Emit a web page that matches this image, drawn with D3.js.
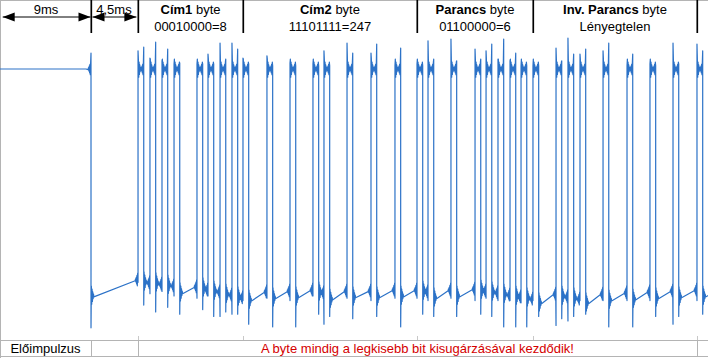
<!DOCTYPE html>
<html><head><meta charset="utf-8">
<script src="https://cdn.jsdelivr.net/npm/d3@7"></script>
<style>html,body{margin:0;padding:0;background:#fff;}svg{display:block;}</style>
</head><body>
<script>
// ---------- data (times in ms, levels in V) ----------
const leaderEndMs = 9.02;          // end of the 9 ms leader pulse
const leaderMs = 9;
const spaceMs = 4.5;
const pulseWidthMs = 0.56;
// start times of the 33 burst pulses (32 data bits + stop)
const pulseStartsMs = [13.63,14.80,15.98,17.16,19.41,20.49,21.67,22.84,
  23.92,26.27,28.53,30.78,31.86,34.12,36.47,38.82,
  40.98,42.06,44.31,46.67,47.75,48.92,50.10,51.18,
  52.35,54.61,55.78,56.96,59.22,61.57,63.82,66.08,68.43];
const highV = 5;
// overshoot peaks of each rising / falling edge
const riseTopV = [5.40,5.24,5.18,5.11,5.11,5.33,5.57,5.57,5.24,5.29,5.13,5.11,5.40,5.57,5.35,5.07,
  5.11,5.62,5.66,5.44,5.40,5.22,5.18,5.07,5.07,5.46,5.68,5.33,5.40,5.07,5.11,5.57,5.55];
const fallTopV = [5.48,5.59,5.44,5.13,5.11,5.11,5.22,5.44,5.11,5.07,5.07,5.07,5.07,5.35,5.55,5.46,
  5.07,5.22,5.18,5.22,5.55,5.66,5.35,5.07,5.07,5.18,5.33,5.44,5.57,5.33,5.07,5.11,5.40];
const riseBotV = [0.30,0.05,0.10,0.00,-0.05,0.00,-0.45,-0.40,-0.10,-0.05,-0.10,0.00,-0.62,-0.05,-0.10,-0.05,
  -0.05,-0.10,-0.05,-0.10,-0.05,-0.10,-0.10,-0.15,-0.10,-0.65,-0.55,-0.10,-0.10,-0.10,-0.10,-0.62,-0.10];
const fallBotV = [-0.20,-0.35,-0.25,-0.40,-0.30,-0.45,-0.35,-0.40,-0.62,-0.68,-0.68,-0.40,-0.45,-0.50,-0.45,-0.68,
  -0.40,-0.45,-0.45,-0.40,-0.45,-0.68,-0.68,-0.68,-0.45,-0.50,-0.45,-0.40,-0.68,-0.68,-0.45,-0.45,-0.40];
const leaderTopV = 5.35, leaderBotV = -0.70;
// low level at start / end of each gap (gap 0 follows the leader)
const lowStartV = [0.00,0.31,0.29,0.24,0.07,0.18,0.11,0.04,-0.02,-0.09,-0.04,-0.02,0.09,-0.07,-0.02,-0.02,0.00,
  0.11,-0.04,0.00,0.13,0.09,0.04,0.00,-0.04,-0.15,0.00,-0.04,-0.15,-0.09,-0.07,-0.04,-0.02,0.00];
const lowEndV = [0.35,0.29,0.26,0.22,0.20,0.13,0.09,0.02,-0.04,0.09,0.11,0.13,0.07,0.11,0.11,0.13,0.13,
  0.09,0.13,0.15,0.11,0.07,0.02,-0.02,-0.07,0.04,-0.02,-0.07,0.04,0.07,0.09,0.11,0.13,0.07];
const endMs = 70;

const byteNames = [["Cím1"," byte"],["Cím2"," byte"],["Parancs"," byte"],["Inv. Parancs"," byte"]];
const byteValues = ["00010000=8","11101111=247","01100000=6","Lényegtelen"];
const leaderLabels = ["9ms","4,5ms"];
const footLeft = "Előimpulzus";
const footNote = "A byte mindig a legkisebb bit kisugárzásával kezdődik!";

// ringing glyph shape (decorative)
const ring = [0.22,-0.18,0.15,-0.12,0.09,-0.06,0.04,-0.02];
const ringStep = 0.035;

// ---------- drawing ----------
const W = 708, H = 358;
const svg = d3.select("body").append("svg").attr("width", W).attr("height", H);
svg.append("rect").attr("width", W).attr("height", H).attr("fill", "#fff");

const x = d3.scaleLinear().domain([0, 70]).range([-1, 713]);
const y = d3.scaleLinear().domain([0, 5]).range([296, 69]);

const pts = [];
function preRing(t, level) { for (let k = ring.length - 1; k >= 0; k--) pts.push([t - (k + 1) * ringStep, level + ring[k] * 0.7]); }
function postRing(t, level) { for (let k = 0; k < ring.length; k++) pts.push([t + (k + 1) * ringStep, level + ring[k]]); }

pts.push([-0.5, highV]);
pts.push([leaderEndMs - 0.5, highV]);
preRing(leaderEndMs, highV);
pts.push([leaderEndMs, leaderTopV], [leaderEndMs, leaderBotV]);
postRing(leaderEndMs, lowStartV[0]);
pulseStartsMs.forEach((ts, i) => {
  const te = ts + pulseWidthMs;
  preRing(ts, lowEndV[i]);
  pts.push([ts, riseBotV[i]], [ts, riseTopV[i]]);
  postRing(ts, highV);
  preRing(te, highV);
  pts.push([te, fallTopV[i]], [te, fallBotV[i]]);
  postRing(te, lowStartV[i + 1]);
});
pts.push([endMs, lowEndV[lowEndV.length - 1]]);

const grid = "#b4b4b4";
const g = svg.append("g");
// borders / grid
g.append("line").attr("x1", 0).attr("x2", W).attr("y1", 0.5).attr("y2", 0.5).attr("stroke", grid);
g.append("line").attr("x1", 0.5).attr("x2", 0.5).attr("y1", 0).attr("y2", H).attr("stroke", grid);
g.append("line").attr("x1", 0).attr("x2", W).attr("y1", 340.5).attr("y2", 340.5).attr("stroke", grid);
g.append("line").attr("x1", 0).attr("x2", W).attr("y1", 356.5).attr("y2", 356.5).attr("stroke", grid);

const byteStarts = [0, 8, 16, 24, 32].map(i => pulseStartsMs[i]);
// small grid ticks at byte boundaries
byteStarts.forEach(t => {
  g.append("line").attr("x1", Math.round(x(t)) + 0.5).attr("x2", Math.round(x(t)) + 0.5)
    .attr("y1", 336).attr("y2", 340).attr("stroke", "#c8c8c8");
});
// footer dividers
[leaderEndMs, byteStarts[0], byteStarts[4]].forEach(t => {
  g.append("line").attr("x1", Math.round(x(t)) + 0.5).attr("x2", Math.round(x(t)) + 0.5)
    .attr("y1", 340).attr("y2", 357).attr("stroke", grid);
});

// waveform
const line = d3.line().x(d => x(d[0])).y(d => y(d[1]));
svg.append("path").datum(pts).attr("d", line).attr("fill", "none")
  .attr("stroke", "#2c72c7").attr("stroke-width", 1.2).attr("stroke-linejoin", "round");

// header dividers
const hdr = svg.append("g");
[leaderEndMs, ...byteStarts].forEach(t => {
  hdr.append("line").attr("x1", x(t) + 0.3).attr("x2", x(t) + 0.3).attr("y1", 0).attr("y2", 33)
    .attr("stroke", "#000").attr("stroke-width", 1.7);
});

// arrows
function arrow(x1, x2, yy) {
  hdr.append("line").attr("x1", x1).attr("x2", x2).attr("y1", yy).attr("y2", yy).attr("stroke", "#000");
  hdr.append("path").attr("d", `M${x1},${yy}L${x1 + 12},${yy - 4.5}L${x1 + 12},${yy + 4.5}Z`).attr("fill", "#000");
  hdr.append("path").attr("d", `M${x2},${yy}L${x2 - 12},${yy - 4.5}L${x2 - 12},${yy + 4.5}Z`).attr("fill", "#000");
}
const ay = 17;
arrow(x(leaderEndMs - leaderMs) + 3.5, x(leaderEndMs) - 0.5, ay);
arrow(x(leaderEndMs) + 1.5, x(leaderEndMs + spaceMs) - 0.5, ay);

const font = "'Liberation Sans', Arial, sans-serif";
hdr.append("text").attr("x", (x(leaderEndMs - leaderMs) + x(leaderEndMs)) / 2 + 1).attr("y", 13.5)
  .attr("text-anchor", "middle").attr("font-family", font).attr("font-size", 13).text(leaderLabels[0]);
hdr.append("text").attr("x", (x(leaderEndMs) + x(leaderEndMs + spaceMs)) / 2).attr("y", 13.5)
  .attr("text-anchor", "middle").attr("font-family", font).attr("font-size", 13).text(leaderLabels[1]);

byteNames.forEach((nm, i) => {
  const cx = (x(byteStarts[i]) + x(byteStarts[i + 1])) / 2;
  const t = hdr.append("text").attr("x", cx).attr("y", 13.5).attr("text-anchor", "middle")
    .attr("font-family", font).attr("font-size", 13);
  t.append("tspan").attr("font-weight", "bold").text(nm[0]);
  t.append("tspan").text(nm[1]);
  hdr.append("text").attr("x", cx).attr("y", 30.5).attr("text-anchor", "middle")
    .attr("font-family", font).attr("font-size", 13).text(byteValues[i]);
});

// footer text
svg.append("text").attr("x", x(leaderEndMs) / 2).attr("y", 353).attr("text-anchor", "middle")
  .attr("font-family", font).attr("font-size", 13).text(footLeft);
svg.append("text").attr("x", (x(byteStarts[0]) + x(byteStarts[4])) / 2).attr("y", 353).attr("text-anchor", "middle")
  .attr("font-family", font).attr("font-size", 13).attr("fill", "#d40000").text(footNote);
</script>
</body></html>
